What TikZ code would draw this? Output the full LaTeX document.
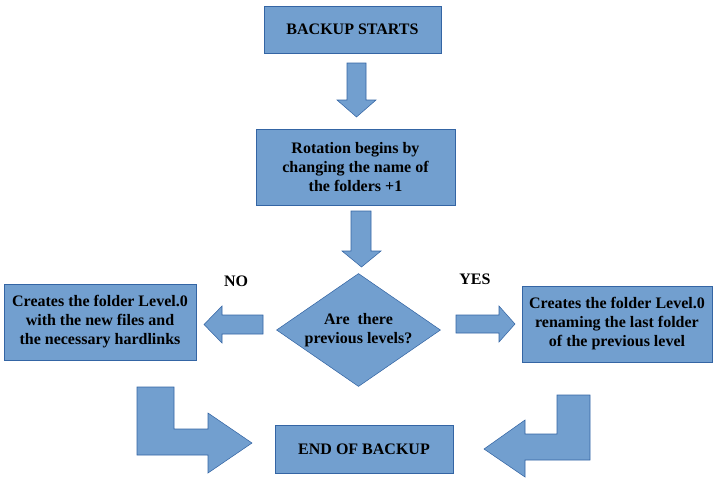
\documentclass[tikz,border=0pt]{standalone}
\usepackage{fontspec}
\setmainfont{Liberation Serif}
\usepackage{tikz}
\usetikzlibrary{shapes.geometric, positioning}

\definecolor{boxfill}{HTML}{729FCF}
\definecolor{boxline}{HTML}{3465A4}

\tikzset{
    stepbox/.style={draw=boxline, fill=boxfill, align=center, font=\fontsize{12}{14.25}\selectfont\bfseries},
    choice/.style={diamond, draw=boxline, fill=boxfill, align=center, font=\fontsize{12}{14.25}\selectfont\bfseries, aspect=1.46, inner sep=0pt},
    barrow/.style={draw=boxline, fill=boxfill, line width=0.4pt},
    tag/.style={font=\fontsize{12}{14.25}\selectfont\bfseries}
}

\begin{document}
\begin{tikzpicture}[x=0.75pt, y=-0.75pt]
            \useasboundingbox (0,0) rectangle (717,487);

            % boxes
            \node[stepbox, minimum width=177*0.75pt, minimum height=47*0.75pt] (start) at (352.5,29.5) {BACKUP STARTS};
            \node[stepbox, minimum width=199*0.75pt, minimum height=76*0.75pt] (rotate) at (355.5,167) {Rotation begins by\\changing the name of\\the folders +1};
            \node[choice, minimum width=164*0.75pt, minimum height=113*0.75pt] (levels) at (358.5,330) {Are\ \ there\\previous levels?};
            \node[stepbox, minimum width=192*0.75pt, minimum height=76*0.75pt] (newlevel) at (100,322) {Creates the folder Level.0\\with the new files and\\the necessary hardlinks};
            \node[stepbox, minimum width=190*0.75pt, minimum height=76*0.75pt] (renlevel) at (617,324) {Creates the folder Level.0\\renaming the last folder\\of the previous level};
            \node[stepbox, minimum width=178*0.75pt, minimum height=48*0.75pt] (finish) at (364,449) {END OF BACKUP};

            \node[tag] (no) at (236,281) {NO};
            \node[tag] (yes) at (475,279) {YES};

            % block arrows
            \draw[barrow] (347,63) -- (366,63) -- (366,100) -- (376,100) -- (356.5,117) -- (337,100) -- (347,100) -- cycle;
            \draw[barrow] (351,211) -- (371,211) -- (371,251) -- (381,251) -- (361.5,267) -- (342,251) -- (351,251) -- cycle;
            \draw[barrow] (263,315) -- (222,315) -- (222,306) -- (204,324.5) -- (222,343) -- (222,334) -- (263,334) -- cycle;
            \draw[barrow] (456,315) -- (499,315) -- (499,306) -- (515,324) -- (499,342) -- (499,333) -- (456,333) -- cycle;
            \draw[barrow] (137,387) -- (174,387) -- (174,429) -- (208,429) -- (208,413) -- (252,443) -- (208,473) -- (208,455) -- (137,455) -- cycle;
            \draw[barrow] (557,395) -- (590,395) -- (590,460) -- (525,460) -- (525,477) -- (484,449) -- (525,420) -- (525,434) -- (557,434) -- cycle;
        \end{tikzpicture}
\end{document}
